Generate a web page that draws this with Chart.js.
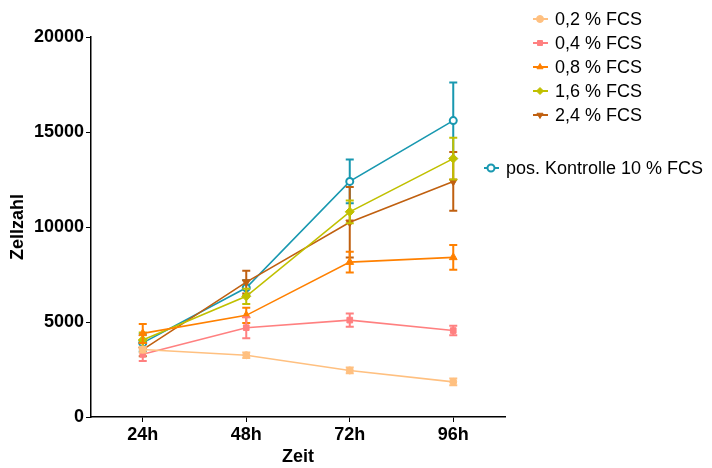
<!DOCTYPE html>
<html>
<head>
<meta charset="utf-8">
<script src="https://cdn.jsdelivr.net/npm/chart.js@4/dist/chart.umd.min.js"></script>
<style>
  html, body { margin: 0; padding: 0; background: #fff; }
  #wrap { width: 712px; height: 468px; position: relative; }
</style>
</head>
<body>
<div id="wrap"><canvas id="c"></canvas></div>
<script>
// === Data ===
const HOURS = ['24h', '48h', '72h', '96h'];
const LABELS = ['0,2 % FCS', '0,4 % FCS', '0,8 % FCS', '1,6 % FCS', '2,4 % FCS', 'pos. Kontrolle 10 % FCS'];
const FCS_02 = [3550, 3250, 2450, 1850];
const FCS_02_ERR = [150, 150, 150, 180];
const FCS_04 = [3300, 4700, 5100, 4550];
const FCS_04_ERR = [350, 550, 350, 250];
const FCS_08 = [4400, 5350, 8150, 8400];
const FCS_08_ERR = [500, 400, 550, 650];
const FCS_16 = [4050, 6350, 10800, 13600];
const FCS_16_ERR = [400, 400, 600, 1100];
const FCS_24 = [3550, 7100, 10250, 12400];
const FCS_24_ERR = [350, 600, 1850, 1550];
const POS_10 = [3900, 6800, 12400, 15600];
const POS_10_ERR = [450, 400, 1150, 2000];
const Y_TICKS = [0, 5000, 10000, 15000, 20000];

const FONT = "'Liberation Sans', Arial, sans-serif";

function ds(i, data, err, color, style, extra) {
    return Object.assign({
        label: LABELS[i],
        data: data,
        errors: err,
        borderColor: color,
        backgroundColor: color,
        borderWidth: 1.6,
        pointStyle: style,
        pointRadius: 4,
        pointBorderWidth: 1,
        pointBorderColor: color,
        pointBackgroundColor: color,
        tension: 0
    }, extra || {});
}

const datasets = [
    ds(0, FCS_02, FCS_02_ERR, '#ffc080', 'circle', { pointRadius: 3.5 }),
    ds(1, FCS_04, FCS_04_ERR, '#ff8080', 'rect', { pointRadius: 4 }),
    ds(2, FCS_08, FCS_08_ERR, '#ff8000', 'triangle', { pointRadius: 4.5 }),
    ds(3, FCS_16, FCS_16_ERR, '#c0c000', 'rectRot', { pointRadius: 4.5 }),
    ds(4, FCS_24, FCS_24_ERR, '#c06010', 'triangle', { pointRadius: 4.5, pointRotation: 180 }),
    ds(5, POS_10, POS_10_ERR, '#1898b0', 'circle', { pointRadius: 3.5, pointBorderWidth: 2, pointBackgroundColor: '#ffffff' })
];

// error bars, drawn right before each dataset
const errorBars = {
    id: 'errorBars',
    beforeDatasetDraw(chart, args) {
        const d = chart.data.datasets[args.index];
        const meta = args.meta;
        const y = chart.scales.y;
        const ctx = chart.ctx;
        ctx.save();
        ctx.strokeStyle = d.borderColor;
        ctx.lineWidth = 2;
        meta.data.forEach((pt, k) => {
            const v = d.data[k], e = d.errors[k];
            const yt = y.getPixelForValue(v + e), yb = y.getPixelForValue(v - e);
            ctx.beginPath();
            ctx.moveTo(pt.x, yt); ctx.lineTo(pt.x, yb);
            ctx.moveTo(pt.x - 4, yt); ctx.lineTo(pt.x + 4, yt);
            ctx.moveTo(pt.x - 4, yb); ctx.lineTo(pt.x + 4, yb);
            ctx.stroke();
        });
        ctx.restore();
    }
};

// split legend: five entries top right, control entry lower
const splitLegend = {
    id: 'splitLegend',
    afterDraw(chart) {
        const ctx = chart.ctx;
        const spots = [
            [540, 19], [540, 43], [540, 67], [540, 91], [540, 115], [491, 168]
        ];
        ctx.save();
        ctx.font = `18px ${FONT}`;
        ctx.textBaseline = 'middle';
        chart.data.datasets.forEach((d, i) => {
            const [cx, cy] = spots[i];
            ctx.strokeStyle = d.borderColor;
            ctx.lineWidth = 2;
            ctx.beginPath();
            ctx.moveTo(cx - 7, cy); ctx.lineTo(cx + 8, cy);
            ctx.stroke();
            ctx.fillStyle = d.pointBackgroundColor;
            ctx.strokeStyle = d.pointBorderColor;
            ctx.lineWidth = d.pointBorderWidth;
            Chart.helpers.drawPoint(ctx, {
                pointStyle: d.pointStyle,
                radius: Math.min(d.pointRadius, 3.5),
                rotation: d.pointRotation || 0,
                borderWidth: d.pointBorderWidth
            }, cx, cy);
            ctx.fillStyle = '#000';
            ctx.fillText(d.label, cx + 15, cy + 1);
        });
        ctx.restore();
    }
};

new Chart(document.getElementById('c'), {
    type: 'line',
    data: { labels: HOURS, datasets: datasets },
    options: {
        responsive: true,
        maintainAspectRatio: false,
        animation: false,
        layout: { padding: { top: 37, right: 207, bottom: 0, left: 0 } },
        plugins: {
            legend: { display: false },
            tooltip: { enabled: false }
        },
        scales: {
            x: {
                type: 'category',
                offset: true,
                grid: { display: true, drawOnChartArea: false, drawTicks: true, tickLength: 5, color: '#000', offset: false },
                border: { display: true, color: '#000', width: 1.5 },
                ticks: { color: '#000', font: { family: FONT, size: 18, weight: 'bold' }, padding: 2 },
                title: { display: true, text: 'Zeit', color: '#000', font: { family: FONT, size: 18, weight: 'bold' }, padding: { top: 0, bottom: 0 } },
                afterFit(scale) { scale.height = 51; }
            },
            y: {
                min: 0,
                max: 20000,
                afterBuildTicks(scale) { scale.ticks = Y_TICKS.map(v => ({ value: v })); },
                grid: { display: true, drawOnChartArea: false, drawTicks: true, tickLength: 5, color: '#000' },
                border: { display: true, color: '#000', width: 1.5 },
                ticks: { color: '#000', font: { family: FONT, size: 18, weight: 'bold' }, padding: 2, callback: v => String(v) },
                title: { display: true, text: 'Zellzahl', color: '#000', font: { family: FONT, size: 18, weight: 'bold' }, padding: { top: 7, bottom: 0 } },
                afterFit(scale) { scale.width = 91; }
            }
        }
    },
    plugins: [errorBars, splitLegend]
});
</script>
</body>
</html>
